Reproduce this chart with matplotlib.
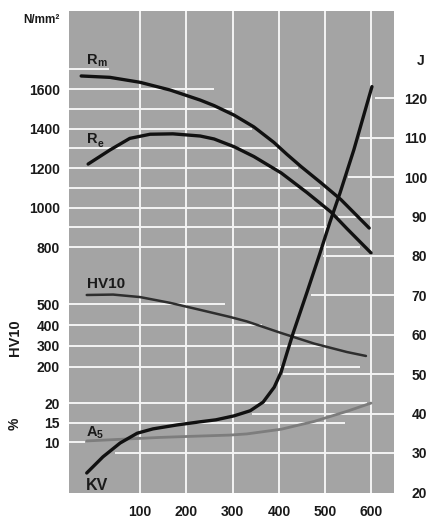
import matplotlib
matplotlib.use("Agg")
import matplotlib.pyplot as plt

plt.rcParams['font.family'] = ['Liberation Sans', 'DejaVu Sans']

# ---------------- data ----------------
# temperature (x) in deg C
rm_temp = [-27, 35, 100, 165, 230, 260, 303, 346, 389, 417, 448, 491, 534, 595]
rm_val = [1666, 1659, 1634, 1595, 1544, 1516, 1468, 1408, 1330, 1270, 1207, 1125, 1040, 896]   # N/mm2

re_temp = [-12, 35, 78, 122, 171, 230, 260, 303, 346, 405, 461, 513, 547, 599]
re_val = [1220, 1291, 1350, 1371, 1373, 1362, 1347, 1308, 1258, 1175, 1075, 976, 893, 770]     # N/mm2

hv_temp = [-15, 42, 100, 165, 230, 294, 331, 405, 476, 547, 588]
hv_val = [546, 548, 536, 508, 474, 440, 418, 362, 311, 270, 251]                               # HV10

a5_temp = [-15, 72, 143, 215, 294, 331, 405, 476, 547, 599]
a5_val = [10.4, 10.9, 11.3, 11.6, 11.9, 12.2, 13.4, 15.4, 18.0, 20.1]                         # %

kv_temp = [-15, 20, 57, 94, 128, 180, 230, 264, 303, 338, 366, 390, 405, 418, 431, 461, 489, 510, 532, 562, 601]
kv_val = [24.9, 29.0, 32.5, 35.0, 36.1, 37.1, 37.9, 38.4, 39.4, 40.7, 42.9, 46.7, 50.6, 55.6, 60.5, 70.9, 80.8, 88.5, 96.0, 107.0, 123.0]  # J

temp_ticks = [100, 200, 300, 400, 500, 600]
j_ticks = [20, 30, 40, 50, 60, 70, 80, 90, 100, 110, 120]
n_ticks = [800, 1000, 1200, 1400, 1600]
hv_ticks = [200, 300, 400, 500]
pct_ticks = [10, 15, 20]

# ---------------- layout / style ----------------
# white horizontal rules: left-anchored (value, x end) and right-anchored (value, x start)
n_rules = [(1700, 33), (1600, 260), (1500, 299), (1400, 342), (1300, 396), (1200, 441),
           (1100, 489), (1000, 500), (900, 506), (800, 575)]
hv_rules = [(500, 284), (400, 364), (300, 493), (200, 575)]
pct_rules = [(20, 590), (15, 543), (10, -19)]
j_rules = [(120, 608), (110, 575), (100, 549), (90, 527), (80, 495), (70, 469),
           (60, 430), (50, 409), (40, 342), (30, 46)]

W, H = 429, 519
L, R, T, B = 69, 394, 11, 493
XMIN, XMAX = -53.3, 648.6

BG = '#a4a4a4'
GRID = '#f4f4f4'
TXT = '#1a1a1a'

fig = plt.figure(figsize=(W / 100, H / 100), dpi=100)
fig.patch.set_facecolor('white')
ax = fig.add_axes([L / W, 1 - B / H, (R - L) / W, (B - T) / H])
ax.set_facecolor(BG)

ax_n = ax.twinx()
ax_hv = ax.twinx()
ax_p = ax.twinx()

ylims = {ax: (19.82, 142.2), ax_n: (-445.6, 1995.0), ax_hv: (-412.0, 1920.0), ax_p: (-2.95, 120.64)}

for a in (ax, ax_n, ax_hv, ax_p):
    for s in a.spines.values():
        s.set_visible(False)
    a.set_xlim(XMIN, XMAX)
    a.set_ylim(*ylims[a])

# vertical rules
for t in temp_ticks:
    ax.axvline(t, color=GRID, lw=1.4, zorder=1)

gkw = dict(color=GRID, lw=1.4, zorder=1, solid_capstyle='butt')
for v, xe in n_rules:
    ax.plot([XMIN, xe], [v, v], transform=ax_n.transData, **gkw)
for v, xe in hv_rules:
    ax.plot([XMIN, xe], [v, v], transform=ax_hv.transData, **gkw)
for v, xe in pct_rules:
    ax.plot([XMIN, xe], [v, v], transform=ax_p.transData, **gkw)
for v, xs in j_rules:
    ax.plot([xs, XMAX], [v, v], **gkw)

# curves
ckw = dict(solid_capstyle='round', solid_joinstyle='round')
ax.plot(a5_temp, a5_val, color='#7d7d7d', lw=2.0, zorder=3, transform=ax_p.transData, **ckw)
ax.plot(hv_temp, hv_val, color='#2e2e2e', lw=1.8, zorder=3, transform=ax_hv.transData, **ckw)
ax.plot(rm_temp, rm_val, color='#111111', lw=2.4, zorder=4, transform=ax_n.transData, **ckw)
ax.plot(re_temp, re_val, color='#111111', lw=2.4, zorder=4, transform=ax_n.transData, **ckw)
ax.plot(kv_temp, kv_val, color='#111111', lw=2.4, zorder=4, **ckw)

for a in (ax, ax_n, ax_hv, ax_p):
    a.set_xlim(XMIN, XMAX)
    a.set_ylim(*ylims[a])

# ticks
tfont = dict(fontsize=10, fontweight='bold', color=TXT)
ax.set_xticks(temp_ticks)
ax.set_xticklabels([str(t) for t in temp_ticks], **tfont)
ax.tick_params(axis='x', length=0, pad=8.5)

ax.yaxis.tick_right()
ax.set_yticks(j_ticks)
ax.set_yticklabels([str(v) for v in j_ticks], ha='right', **tfont)
ax.tick_params(axis='y', length=0, pad=23.8)

for a, ticks in ((ax_n, n_ticks), (ax_hv, hv_ticks), (ax_p, pct_ticks)):
    a.yaxis.tick_left()
    a.set_yticks(ticks)
    a.set_yticklabels([str(v) for v in ticks], **tfont)
    a.tick_params(axis='y', length=0, pad=6.5)


def fx(x):
    return x / W


def fy(y):
    return 1 - y / H


lab = dict(fontweight='bold', color=TXT)
# curve labels
fig.text(fx(86.5), fy(64), 'R', ha='left', va='baseline', fontsize=10.5, **lab)
fig.text(fx(97.5), fy(66.5), 'm', ha='left', va='baseline', fontsize=7.5, **lab)
fig.text(fx(86.5), fy(143), 'R', ha='left', va='baseline', fontsize=10.5, **lab)
fig.text(fx(97.5), fy(147), 'e', ha='left', va='baseline', fontsize=7.5, **lab)
fig.text(fx(86.5), fy(288.5), 'HV10', ha='left', va='baseline', fontsize=11, **lab)
fig.text(fx(86.5), fy(435.5), 'A', ha='left', va='baseline', fontsize=10.5, **lab)
fig.text(fx(97), fy(437.5), '5', ha='left', va='baseline', fontsize=7.5, **lab)
fig.text(fx(86), fy(489.5), 'KV', ha='left', va='baseline', fontsize=11.5, **lab)

# axis unit labels
fig.text(fx(60), fy(20), 'N/mm\u00b2', ha='right', va='center', fontsize=8.5, **lab)
fig.text(fx(421), fy(61), 'J', ha='center', va='center', fontsize=10, **lab)
fig.text(fx(15), fy(337.5), 'HV10', rotation=90, ha='center', va='center', fontsize=10.5, **lab)
fig.text(fx(15), fy(424), '%', rotation=90, ha='center', va='center', fontsize=10, **lab)

fig.savefig('out.png', dpi=100, facecolor='white')
